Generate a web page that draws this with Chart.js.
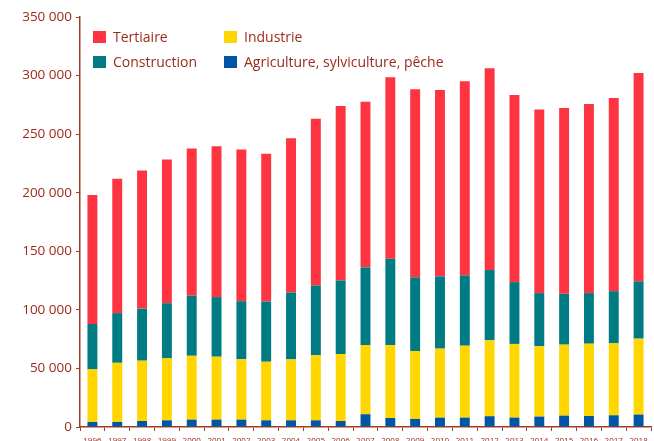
<!DOCTYPE html>
<html lang="fr">
<head>
<meta charset="utf-8">
<title>Emplois par secteur</title>
<script src="https://cdn.jsdelivr.net/npm/chart.js@4/dist/chart.umd.min.js"></script>
<style>
    body { margin: 0; background: #fff; }
    .wrap { position: relative; width: 654px; height: 441px; }
    .legend {
        position: absolute; left: 93px; top: 24px;
        display: grid; grid-template-columns: 131px auto; grid-auto-rows: 25px;
        font-family: "Open Sans", sans-serif; font-size: 14px; color: #9b2a1b;
    }
    .legend .item { display: flex; align-items: center; }
    .legend .box { width: 13px; height: 12px; margin-right: 7px; }
</style>
</head>
<body>
<div class="wrap">
    <canvas id="chart" width="654" height="441"></canvas>
    <div class="legend" id="legend"></div>
</div>
<script>
// Données
const annees = ['1996', '1997', '1998', '1999', '2000', '2001', '2002', '2003', '2004', '2005', '2006', '2007',
    '2008', '2009', '2010', '2011', '2012', '2013', '2014', '2015', '2016', '2017', '2018'];

const agriculture = [4300, 4300, 5100, 5700, 6300, 6300, 6300, 5700, 5700, 5700, 5100, 10900,
    7700, 6900, 8000, 8000, 9200, 8000, 8900, 9700, 9400, 10000, 10600];
const industrie = [44900, 50500, 51500, 52900, 54500, 53700, 51500, 50000, 52000, 55500, 57200, 59100,
    62300, 58000, 58900, 61400, 64800, 62900, 60000, 60600, 61700, 61400, 64800];
const construction = [38800, 42400, 44500, 47100, 51200, 50900, 49600, 51400, 57100, 59600, 62800, 66300,
    73700, 62800, 61700, 60000, 60000, 52800, 45400, 43400, 43200, 44600, 48900];
const tertiaire = [110000, 114800, 117800, 122600, 125700, 128800, 129500, 126200, 131800, 142300, 148900, 141400,
    154900, 160600, 159100, 165700, 172300, 159700, 156800, 158600, 161400, 164800, 177900];

const yTicks = [0, 50000, 100000, 150000, 200000, 250000, 300000, 350000];

const brun = '#a03a22';
const texte = '#9b2a1b';

document.addEventListener('DOMContentLoaded', function() {
    const datasets = [
        { label: 'Agriculture, sylviculture, pêche', data: agriculture, backgroundColor: '#0055a5' },
        { label: 'Industrie', data: industrie, backgroundColor: '#ffd600' },
        { label: 'Construction', data: construction, backgroundColor: '#007b83' },
        { label: 'Tertiaire', data: tertiaire, backgroundColor: '#fe3441' }
    ];
    datasets.forEach(ds => {
        ds.barPercentage = 0.4;
        ds.categoryPercentage = 1;
        ds.borderWidth = 0;
    });

    const ctx = document.getElementById('chart').getContext('2d');
    new Chart(ctx, {
        type: 'bar',
        data: { labels: annees, datasets: datasets },
        options: {
            responsive: false,
            animation: false,
            layout: { padding: { top: 17, right: 3, left: 0, bottom: 0 } },
            plugins: {
                legend: { display: false },
                tooltip: { enabled: false },
                title: { display: false }
            },
            scales: {
                x: {
                    stacked: true,
                    afterFit: function(scale) { scale.height = 14; },
                    border: { display: true, color: brun, width: 1.5 },
                    grid: { display: true, drawOnChartArea: false, drawTicks: true, tickLength: 4, color: brun, offset: true },
                    ticks: {
                        color: texte, padding: 5, maxRotation: 0, autoSkip: false,
                        font: { family: 'Open Sans', size: 8 }
                    }
                },
                y: {
                    stacked: true,
                    min: 0,
                    max: 350000,
                    afterFit: function(scale) { scale.width = 80; },
                    afterBuildTicks: function(scale) { scale.ticks = yTicks.map(v => ({ value: v })); },
                    border: { display: true, color: brun, width: 1.5 },
                    grid: { display: true, drawOnChartArea: false, drawTicks: true, tickLength: 4, color: brun },
                    ticks: {
                        color: texte, padding: 4,
                        font: { family: 'Open Sans', size: 13.5 },
                        callback: function(value) {
                            return value.toString().replace(/\B(?=(\d{3})+(?!\d))/g, ' ');
                        }
                    }
                }
            }
        }
    });

    // Légende en deux colonnes
    const legend = document.getElementById('legend');
    const ordre = [3, 1, 2, 0];
    ordre.forEach(i => {
        const ds = datasets[i];
        legend.insertAdjacentHTML('beforeend',
            `<div class="item"><span class="box" style="background:${ds.backgroundColor}"></span>${ds.label}</div>`);
    });
});
</script>
</body>
</html>
